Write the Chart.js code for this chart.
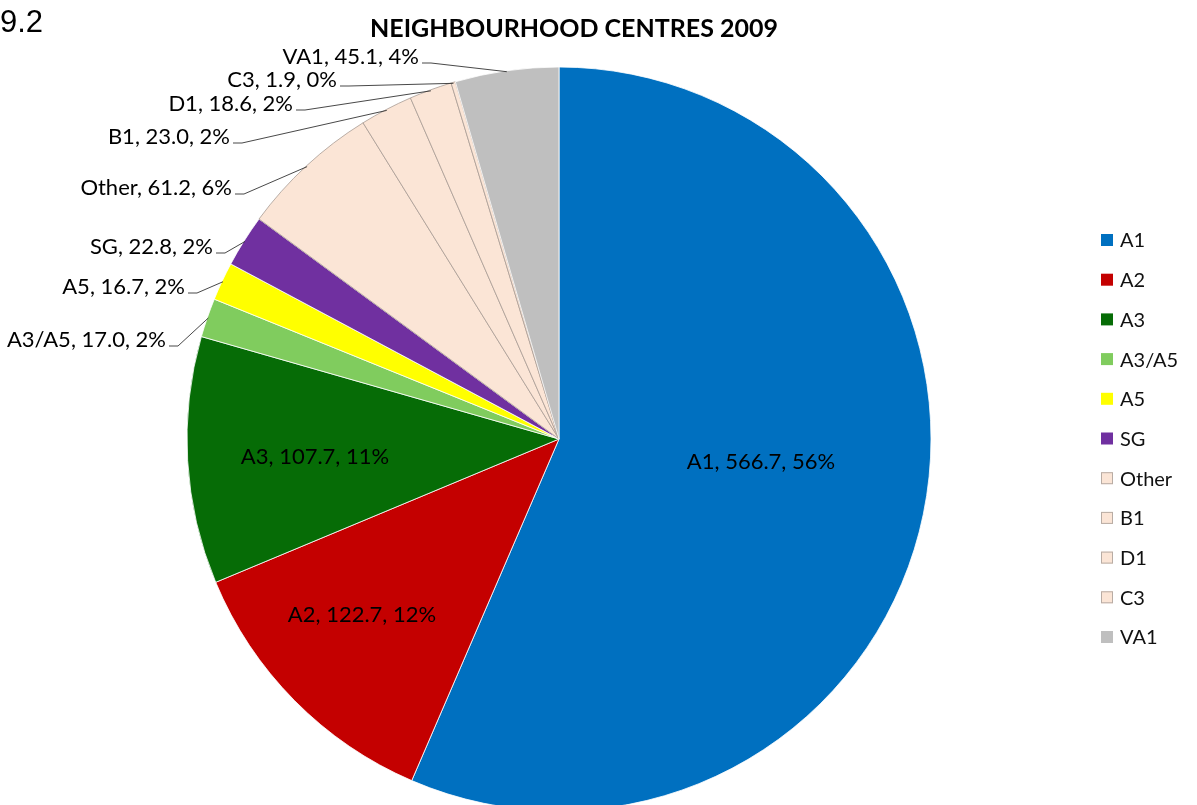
<!DOCTYPE html>
<html lang="en">
<head>
  <meta charset="UTF-8">
  <title>Neighbourhood Centres 2009</title>
  <script src="https://cdn.jsdelivr.net/npm/chart.js"></script>
  <style>
    html, body {
      margin: 0;
      padding: 0;
      background: #ffffff;
      overflow: hidden;
    }

    #chart-container {
      position: relative;
      width: 1197px;
      height: 805px;
    }
  </style>
</head>
<body>
  <div id="chart-container">
    <canvas id="centresChart"></canvas>
  </div>
  <script>
    // Floorspace by use class, neighbourhood centres 2009
    const useClasses = ["A1", "A2", "A3", "A3/A5", "A5", "SG", "Other", "B1", "D1", "C3", "VA1"];
    const floorspace = [566.7, 122.7, 107.7, 17.0, 16.7, 22.8, 61.2, 23.0, 18.6, 1.9, 45.1];

    const sliceColours = [
      "#0070c0", "#c40000", "#066c06", "#80cc5e", "#ffff00", "#7030a0",
      "#fbe5d6", "#fbe5d6", "#fbe5d6", "#fbe5d6", "#bfbfbf"
    ];
    const sliceBorders = [
      "#ffffff", "#ffffff", "#ffffff", "#ffffff", "#ffffff", "#ffffff",
      "#a89c94", "#a89c94", "#a89c94", "#a89c94", "#ffffff"
    ];

    // where each data label sits: inside labels are centred, outside ones end at x
    const labelSpots = {
      "A1": { x: 761, y: 462, inside: true },
      "A2": { x: 362, y: 615, inside: true },
      "A3": { x: 315, y: 457, inside: true },
      "A3/A5": { x: 166, y: 340 },
      "A5": { x: 185, y: 287 },
      "SG": { x: 213, y: 247 },
      "Other": { x: 232, y: 188 },
      "B1": { x: 230, y: 137 },
      "D1": { x: 293, y: 104 },
      "C3": { x: 337, y: 80 },
      "VA1": { x: 419, y: 57 }
    };

    const total = floorspace.reduce((a, b) => a + b, 0);
    const labelFont = "22px Lato";

    const pieLabels = {
      id: "pieLabels",
      afterDatasetsDraw(chart) {
        const ctx = chart.ctx;
        const arcs = chart.getDatasetMeta(0).data;
        ctx.save();
        ctx.font = labelFont;
        ctx.textBaseline = "middle";
        arcs.forEach((arc, i) => {
          const name = useClasses[i];
          const value = floorspace[i];
          const pct = Math.round(value / total * 100);
          const text = `${name}, ${value.toFixed(1)}, ${pct}%`;
          const spot = labelSpots[name];
          if (spot.inside) {
            ctx.fillStyle = "#000000";
            ctx.textAlign = "center";
            ctx.fillText(text, spot.x, spot.y);
            return;
          }
          // leader line from the label to the middle of the slice edge
          const mid = (arc.startAngle + arc.endAngle) / 2;
          const ex = arc.x + Math.cos(mid) * (arc.outerRadius - 1);
          const ey = arc.y + Math.sin(mid) * (arc.outerRadius - 1);
          const ly = spot.y + 6;
          ctx.strokeStyle = "rgba(40, 40, 40, 0.85)";
          ctx.lineWidth = 1;
          ctx.beginPath();
          ctx.moveTo(spot.x + 3, ly);
          ctx.lineTo(spot.x + 12, ly);
          ctx.lineTo(ex, ey);
          ctx.stroke();
          ctx.fillStyle = "#000000";
          ctx.textAlign = "right";
          ctx.fillText(text, spot.x, spot.y);
        });
        ctx.restore();
      }
    };

    const headings = {
      id: "headings",
      afterDraw(chart) {
        const ctx = chart.ctx;
        ctx.save();
        ctx.fillStyle = "#000000";
        ctx.textBaseline = "alphabetic";
        ctx.textAlign = "left";
        ctx.font = "31px 'Liberation Sans'";
        ctx.fillText("9.2", 0, 32);
        ctx.textAlign = "center";
        ctx.font = "bold 25px Lato";
        ctx.fillText("NEIGHBOURHOOD CENTRES 2009", 574, 37);
        ctx.restore();
      }
    };

    const sideLegend = {
      id: "sideLegend",
      afterDraw(chart) {
        const ctx = chart.ctx;
        ctx.save();
        ctx.font = "20px Lato";
        ctx.textBaseline = "middle";
        ctx.textAlign = "left";
        useClasses.forEach((name, i) => {
          const y = 240 + i * 39.7;
          ctx.fillStyle = sliceColours[i];
          ctx.fillRect(1101, y - 6, 12, 12);
          if (sliceColours[i] === "#fbe5d6") {
            ctx.strokeStyle = "#b8aca4";
            ctx.lineWidth = 1;
            ctx.strokeRect(1101.5, y - 5.5, 11, 11);
          }
          ctx.fillStyle = "#111111";
          ctx.fillText(name, 1120, y + 1);
        });
        ctx.restore();
      }
    };

    const ctx = document.getElementById("centresChart").getContext("2d");

    new Chart(ctx, {
      type: "pie",
      data: {
        labels: useClasses,
        datasets: [
          {
            data: floorspace,
            backgroundColor: sliceColours,
            borderColor: sliceBorders,
            borderWidth: 0.8,
          },
        ],
      },
      options: {
        responsive: true,
        maintainAspectRatio: false,
        animation: false,
        radius: 372,
        layout: {
          padding: { left: 0, right: 79, top: 73, bottom: 0 },
        },
        plugins: {
          legend: { display: false },
          tooltip: { enabled: false },
        },
      },
      plugins: [pieLabels, headings, sideLegend],
    });
  </script>
</body>
</html>
